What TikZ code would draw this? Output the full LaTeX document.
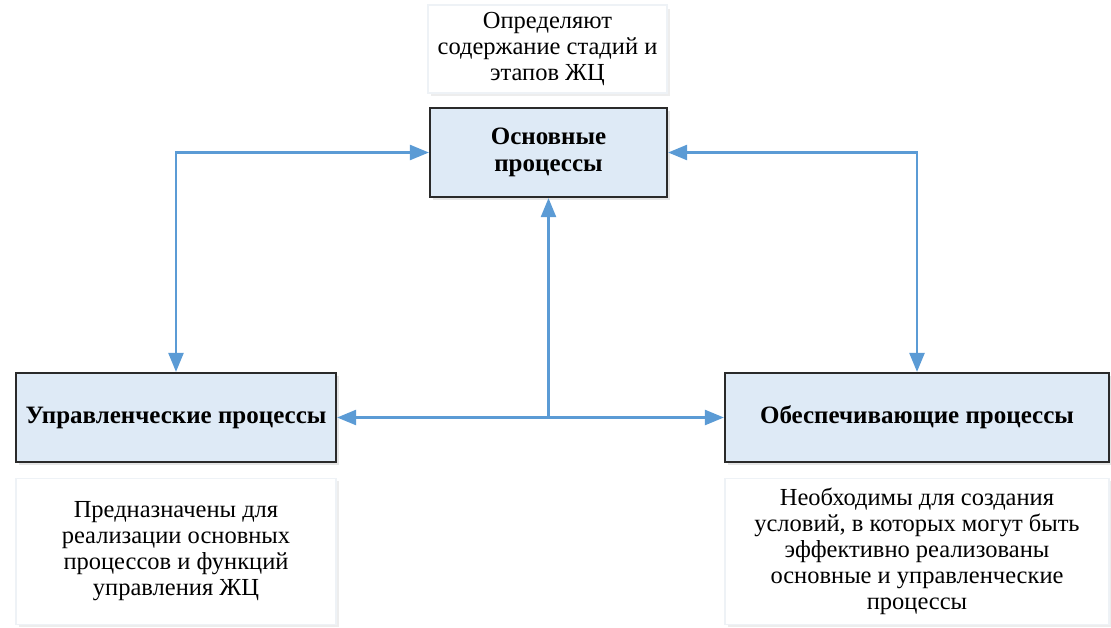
\documentclass[tikz,border=0pt]{standalone}
\usepackage{fontspec}
\setmainfont{Liberation Serif}
\usetikzlibrary{arrows.meta}
\definecolor{lineblue}{HTML}{5B9BD5}
\definecolor{boxfill}{HTML}{DEEAF6}
\definecolor{boxdraw}{HTML}{2A2A2A}
\definecolor{notedraw}{HTML}{EEF2F6}
\tikzset{
  procbox/.style={draw=boxdraw, line width=2.2pt, fill=boxfill, align=center,
    inner sep=0pt, font=\fontsize{25}{27}\selectfont\bfseries},
  notebox/.style={draw=notedraw, line width=1.5pt, fill=white, align=center,
    inner sep=0pt, font=\fontsize{24.5}{26}\selectfont},
  tip/.tip={Triangle[length=19pt,width=15pt]},
  conn/.style={draw=lineblue, line width=2.4pt, arrows={tip-tip}},
  conn1/.style={draw=lineblue, line width=2.4pt, arrows={-tip}}
}
\begin{document}
\begin{tikzpicture}[x=1pt,y=-1pt]
\useasboundingbox (0,0) rectangle (1111,627);
% shadows
\fill[black!7] (431,9) rectangle (670,96);
\fill[black!10] (433,111) rectangle (670,200);
\fill[black!10] (19,376) rectangle (339,465);
\fill[black!10] (728,376) rectangle (1111,465);
\fill[black!7] (19,481) rectangle (339,627);
\fill[black!7] (728,481) rectangle (1111,627);
% nodes
\node[notebox, minimum width=239pt, minimum height=88pt] (topnote) at (547.5,49)
  {Определяют\\содержание стадий и\\этапов ЖЦ};
\node[procbox, minimum width=237pt, minimum height=89pt] (osn) at (548.5,152.5)
  {Основные\\процессы};
\node[procbox, minimum width=320pt, minimum height=89pt] (upr) at (176,417.5)
  {Управленческие процессы};
\node[procbox, minimum width=384pt, minimum height=89pt] (obes) at (917,417.5)
  {Обеспечивающие процессы};
\node[notebox, minimum width=320pt, minimum height=146pt] (uprnote) at (176,551.5)
  {Предназначены для\\реализации основных\\процессов и функций\\управления ЖЦ};
\node[notebox, minimum width=384pt, minimum height=146pt] (obesnote) at (917,551.5)
  {Необходимы для создания\\условий, в которых могут быть\\эффективно реализованы\\основные и управленческие\\процессы};
% connectors
\coordinate (j) at (osn.south |- upr.east);
\draw[conn] (osn.west) -| (upr.north);
\draw[conn] (osn.east) -| (obes.north);
\draw[conn] (upr.east) -- (obes.west);
\draw[conn1] (j) -- (osn.south);
\end{tikzpicture}
\end{document}
